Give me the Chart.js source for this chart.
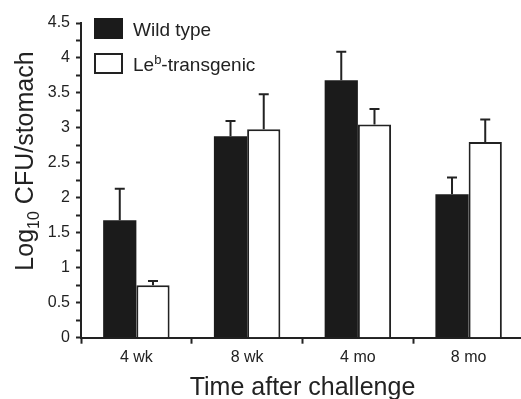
<!DOCTYPE html>
<html>
<head>
<meta charset="utf-8">
<script src="https://cdn.jsdelivr.net/npm/chart.js@4/dist/chart.umd.min.js"></script>
<style>
  html, body { margin: 0; padding: 0; background: #fff; overflow: hidden; }
  #wrap { width: 525px; height: 399px; position: relative; }
</style>
</head>
<body>
<div id="wrap"><canvas id="chart"></canvas></div>
<script>
let categories = ["4 wk", "8 wk", "4 mo", "8 mo"];
let wildType = [1.68, 2.88, 3.68, 2.05];
let wildTypeErr = [0.45, 0.22, 0.41, 0.24];
let transgenic = [0.75, 2.98, 3.05, 2.80];
let transgenicErr = [0.06, 0.50, 0.22, 0.32];
let yTicks = [0, 0.5, 1, 1.5, 2, 2.5, 3, 3.5, 4, 4.5];

let ink = "#222222";
let fontName = "'Liberation Sans', Arial, sans-serif";

// upward error bars with a cap, one per bar
let errorBars = {
    id: "errorBars",
    afterDatasetsDraw(chart) {
        let ctx = chart.ctx;
        let yScale = chart.scales.y;
        chart.data.datasets.forEach((ds, i) => {
            let meta = chart.getDatasetMeta(i);
            meta.data.forEach((bar, j) => {
                let top = yScale.getPixelForValue(ds.data[j] + ds.errors[j]);
                ctx.save();
                ctx.strokeStyle = ink;
                ctx.lineWidth = 2;
                ctx.beginPath();
                ctx.moveTo(bar.x, bar.y);
                ctx.lineTo(bar.x, top);
                ctx.moveTo(bar.x - 5, top);
                ctx.lineTo(bar.x + 5, top);
                ctx.stroke();
                ctx.restore();
            });
        });
    }
};

// draws text pieces in a row, some as sub/superscript
function drawPieces(ctx, pieces, x, y) {
    let cx = x;
    pieces.forEach(p => {
        ctx.font = p.size + "px " + fontName;
        ctx.fillText(p.text, cx, y + (p.shift || 0));
        cx += ctx.measureText(p.text).width;
    });
}
function piecesWidth(ctx, pieces) {
    let w = 0;
    pieces.forEach(p => {
        ctx.font = p.size + "px " + fontName;
        w += ctx.measureText(p.text).width;
    });
    return w;
}

let extras = {
    id: "extras",
    afterDraw(chart) {
        let ctx = chart.ctx;
        let ds = chart.data.datasets;
        ctx.save();
        ctx.fillStyle = ink;
        ctx.textBaseline = "alphabetic";

        // legend
        ctx.fillStyle = ds[0].backgroundColor;
        ctx.fillRect(94, 18, 29, 21);
        ctx.fillStyle = "#fff";
        ctx.fillRect(95, 54, 27, 19);
        ctx.strokeStyle = ink;
        ctx.lineWidth = 2;
        ctx.strokeRect(95, 54, 27, 19);
        ctx.fillStyle = ink;
        drawPieces(ctx, [{text: ds[0].label, size: 19}], 133, 36);
        drawPieces(ctx, [
            {text: "Le", size: 19},
            {text: "b", size: 13, shift: -7},
            {text: "-transgenic", size: 19}
        ], 133, 71);

        // y axis title with subscript
        let title = [
            {text: "Log", size: 25},
            {text: "10", size: 16, shift: 6},
            {text: " CFU/stomach", size: 25}
        ];
        let w = piecesWidth(ctx, title);
        ctx.translate(33, 161);
        ctx.rotate(-Math.PI / 2);
        drawPieces(ctx, title, -w / 2, 0);
        ctx.restore();
    }
};

new Chart(document.getElementById("chart"), {
    type: "bar",
    data: {
        labels: categories,
        datasets: [
            {
                label: "Wild type",
                data: wildType,
                errors: wildTypeErr,
                backgroundColor: "#1b1b1b",
                borderColor: ink,
                borderWidth: 0
            },
            {
                label: "Leb-transgenic",
                data: transgenic,
                errors: transgenicErr,
                backgroundColor: "#ffffff",
                borderColor: ink,
                borderWidth: 2,
                borderSkipped: "bottom"
            }
        ]
    },
    options: {
        responsive: true,
        maintainAspectRatio: false,
        animation: false,
        events: [],
        layout: { padding: { top: 23, right: 1, left: 0, bottom: 0 } },
        datasets: { bar: { barPercentage: 1, categoryPercentage: 0.6 } },
        plugins: { legend: { display: false }, tooltip: { enabled: false } },
        scales: {
            x: {
                offset: true,
                afterFit: s => { s.height = 61.3; },
                grid: { display: true, drawOnChartArea: false, offset: true, tickLength: 6, tickColor: ink, tickWidth: 2 },
                border: { color: ink, width: 2 },
                ticks: { color: ink, font: { family: fontName, size: 16 }, padding: 4, maxRotation: 0 },
                title: {
                    display: true,
                    text: "Time after challenge",
                    color: ink,
                    font: { family: fontName, size: 25, lineHeight: 1 },
                    padding: { top: 0, bottom: -2 }
                }
            },
            y: {
                min: 0,
                max: 4.5,
                afterFit: s => { s.width = 81; },
                grid: { display: true, drawOnChartArea: false, tickLength: 5, tickColor: ink, tickWidth: 2 },
                border: { color: ink, width: 2 },
                ticks: {
                    stepSize: 0.25,
                    autoSkip: false,
                    maxTicksLimit: 100,
                    color: ink,
                    padding: 6,
                    font: { family: fontName, size: 16 },
                    callback: v => yTicks.includes(v) ? String(v) : ""
                }
            }
        }
    },
    plugins: [errorBars, extras]
});
</script>
</body>
</html>
